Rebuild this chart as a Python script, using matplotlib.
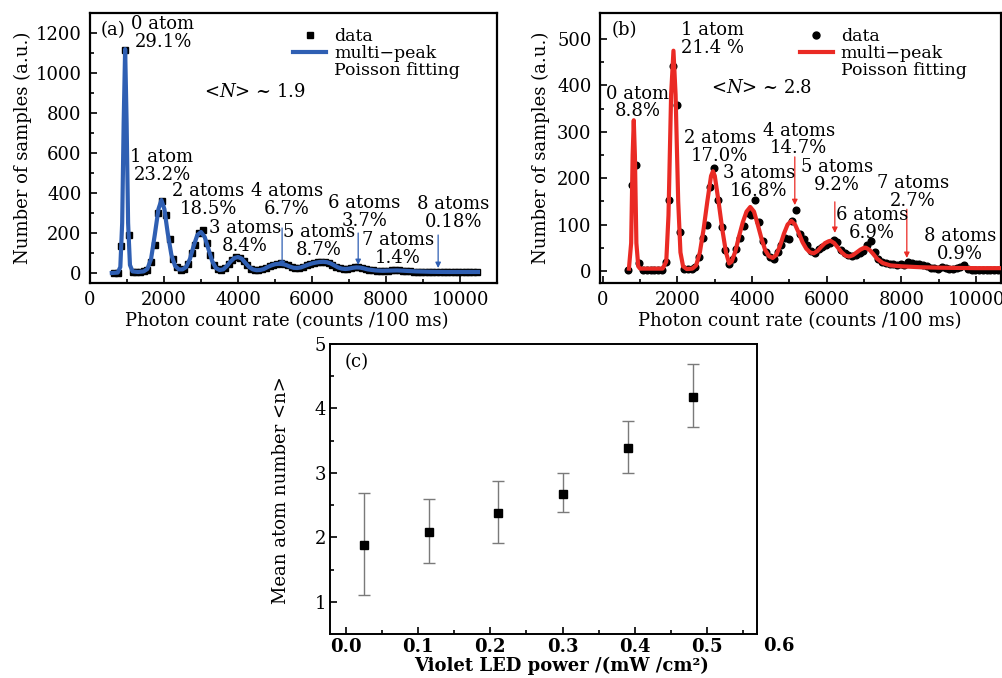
import matplotlib
matplotlib.use("Agg")
import matplotlib.pyplot as plt
from matplotlib.lines import Line2D

plt.rcParams['font.family'] = 'DejaVu Serif'
plt.rcParams['mathtext.fontset'] = 'dejavuserif'
plt.rcParams['font.size'] = 12

# ---- panel (a): histogram with <N> ~ 1.9 ----
a_data_x = [650, 750, 850, 950, 1050, 1150, 1250, 1350, 1450, 1550, 1650, 1750, 1850, 1950, 2050,
            2150, 2250, 2350, 2450, 2550, 2650, 2750, 2850, 2950, 3050, 3150, 3250, 3350, 3450,
            3550, 3650, 3750, 3850, 3950, 4050, 4150, 4250, 4350, 4450, 4550, 4650, 4750, 4850,
            4950, 5050, 5150, 5250, 5350, 5450, 5550, 5650, 5750, 5850, 5950, 6050, 6150, 6250,
            6350, 6450, 6550, 6650, 6750, 6850, 6950, 7050, 7150, 7250, 7350, 7450, 7550, 7650,
            7750, 7850, 7950, 8050, 8150, 8250, 8350, 8450, 8550, 8650, 8750, 8850, 8950, 9050,
            9150, 9250, 9350, 9450, 9550, 9650, 9750, 9850, 9950, 10050, 10150, 10250, 10350, 10450]
a_data_y = [0, 0, 135, 1115, 190, 5, 3, 5, 8, 15, 55, 140, 300, 360, 290,
            170, 70, 30, 15, 20, 45, 100, 140, 200, 215, 150, 90, 40, 20,
            15, 25, 45, 65, 78, 75, 60, 40, 22, 15, 14, 18, 25, 35,
            42, 45, 48, 47, 38, 30, 25, 26, 32, 38, 45, 50, 53, 56,
            55, 50, 42, 32, 24, 20, 22, 25, 28, 30, 26, 20, 16, 14,
            12, 10, 11, 12, 13, 15, 14, 11, 9, 8, 7, 6, 6, 5,
            5, 5, 4, 5, 4, 4, 4, 4, 3, 3, 3, 3, 3, 3]

a_fit_x = [590, 750, 820, 870, 910, 950, 990, 1030, 1080, 1150, 1300, 1450, 1550, 1650, 1750,
           1850, 1930, 2010, 2100, 2200, 2300, 2400, 2500, 2600, 2700, 2800, 2900, 3000, 3100,
           3200, 3300, 3400, 3500, 3600, 3700, 3800, 3900, 4000, 4100, 4200, 4300, 4400, 4500,
           4600, 4700, 4800, 4900, 5000, 5100, 5200, 5300, 5400, 5500, 5600, 5700, 5800, 5900,
           6000, 6100, 6200, 6300, 6400, 6500, 6600, 6700, 6800, 6900, 7000, 7100, 7200, 7300,
           7400, 7500, 7700, 7900, 8100, 8300, 8500, 8800, 9200, 9700, 10480]
a_fit_y = [0, 2, 30, 250, 750, 1120, 750, 250, 40, 8, 5, 8, 20, 70, 190,
           320, 365, 320, 200, 90, 35, 18, 18, 30, 70, 135, 190, 205, 180,
           120, 60, 25, 15, 18, 35, 58, 75, 80, 72, 50, 30, 18, 14,
           15, 20, 30, 38, 44, 46, 45, 40, 32, 26, 25, 28, 35, 42,
           48, 52, 55, 56, 54, 48, 38, 28, 22, 20, 22, 26, 28, 27,
           23, 18, 13, 11, 12, 13, 11, 8, 6, 5, 5]

a_labels = ["0 atom\n29.1%", "1 atom\n23.2%", "2 atoms\n18.5%", "3 atoms\n8.4%", "4 atoms\n6.7%",
            "5 atoms\n8.7%", "6 atoms\n3.7%", "7 atoms\n1.4%", "8 atoms\n0.18%"]
a_label_x = [1973, 1946, 3189, 4189, 5324, 6189, 7405, 8324, 9811]
a_label_y = [1200, 535, 365, 180, 365, 160, 305, 120, 300]
a_arrow_x = [5190, 7245, 9405]
a_arrow_top = [225, 200, 190]
a_arrow_bot = [30, 40, 25]

# ---- panel (b): histogram with <N> ~ 2.8 ----
b_data_x = [680, 780, 880, 980, 1080, 1180, 1280, 1380, 1480, 1580, 1680, 1780, 1880, 1980, 2080,
            2180, 2280, 2380, 2480, 2580, 2680, 2780, 2880, 2980, 3080, 3180, 3280, 3380, 3480,
            3580, 3680, 3780, 3880, 3980, 4080, 4180, 4280, 4380, 4480, 4580, 4680, 4780, 4880,
            4980, 5080, 5180, 5280, 5380, 5480, 5580, 5680, 5780, 5880, 5980, 6080, 6180, 6280,
            6380, 6480, 6580, 6680, 6780, 6880, 6980, 7080, 7180, 7280, 7380, 7480, 7580, 7680,
            7780, 7880, 7980, 8080, 8180, 8280, 8380, 8480, 8580, 8680, 8780, 8880, 8980, 9080,
            9180, 9280, 9380, 9480, 9580, 9680, 9780, 9880, 9980, 10080, 10180, 10280, 10380,
            10480, 10580]
b_data_y = [3, 185, 228, 17, 3, 2, 2, 2, 2, 3, 20, 152, 442, 358, 84,
            5, 4, 5, 8, 30, 70, 100, 180, 222, 152, 95, 45, 15, 25,
            48, 70, 98, 125, 120, 154, 105, 65, 40, 30, 25, 40, 55, 70,
            68, 108, 131, 80, 68, 55, 42, 38, 48, 52, 55, 60, 67, 62,
            45, 38, 35, 32, 35, 38, 42, 55, 65, 40, 25, 20, 18, 15,
            14, 12, 15, 12, 20, 18, 16, 15, 12, 10, 7, 6, 5, 8,
            6, 5, 5, 7, 9, 12, 5, 1, 1, 1, 1, 1, 1,
            1, 1]

b_fit_x = [700, 760, 800, 830, 860, 900, 950, 1000, 1600, 1700, 1760, 1830, 1893, 1950, 2020,
           2080, 2150, 2250, 2400, 2500, 2600, 2700, 2800, 2900, 2950, 3000, 3100, 3200, 3300,
           3384, 3450, 3550, 3650, 3750, 3850, 3950, 4050, 4150, 4250, 4350, 4450, 4550, 4650,
           4750, 4850, 4950, 5050, 5150, 5250, 5350, 5450, 5550, 5650, 5750, 5850, 5950, 6050,
           6100, 6200, 6300, 6400, 6500, 6600, 6700, 6800, 6900, 7000, 7050, 7150, 7250, 7350,
           7500, 7700, 8000, 8500, 9000, 10000, 10660]
b_fit_y = [5, 60, 250, 325, 250, 60, 10, 5, 5, 20, 120, 380, 475, 380, 150,
           40, 10, 4, 5, 12, 40, 90, 150, 205, 215, 205, 150, 90, 40,
           16, 20, 42, 75, 105, 128, 138, 128, 100, 70, 45, 32, 28, 35,
           55, 80, 100, 108, 100, 82, 62, 48, 40, 38, 43, 52, 60, 64,
           65, 60, 50, 40, 33, 31, 34, 40, 46, 50, 50, 45, 36, 26,
           17, 12, 10, 8, 7, 6, 6]

b_labels = ["0 atom\n8.8%", "1 atom\n21.4 %", "2 atoms\n17.0%", "3 atoms\n16.8%", "4 atoms\n14.7%",
            "5 atoms\n9.2%", "6 atoms\n6.9%", "7 atoms\n2.7%", "8 atoms\n0.9%"]
b_label_x = [938, 2947, 3134, 4179, 5250, 6268, 7206, 8304, 9563]
b_label_y = [364, 500, 267, 192, 284, 205, 101, 170, 56]
b_arrow_x = [5143, 6215, 8143]
b_arrow_top = [246, 149, 133]
b_arrow_bot = [142, 82, 28]

# ---- panel (c): mean atom number vs LED power ----
c_power = [0.025, 0.115, 0.21, 0.30, 0.39, 0.48]
c_mean = [1.88, 2.09, 2.38, 2.68, 3.38, 4.18]
c_upper = [2.69, 2.60, 2.88, 3.00, 3.80, 4.69]
c_lower = [1.10, 1.60, 1.91, 2.40, 3.00, 3.71]

blue = '#2f5fb3'
red = '#ea2a24'
fs = 13

fig = plt.figure(figsize=(10.03, 6.78), dpi=100)
ax_a = fig.add_axes([0.0897, 0.5826, 0.406, 0.398])
ax_b = fig.add_axes([0.598, 0.5826, 0.3998, 0.398])
ax_c = fig.add_axes([0.329, 0.0649, 0.4257, 0.4277])


def style_axes(ax, lw=1.6, pad=6):
    for s in ax.spines.values():
        s.set_linewidth(lw)
    ax.tick_params(which='both', direction='in', top=False, right=False, width=1.2, pad=pad,
                   labelsize=fs)
    ax.tick_params(which='major', length=5)
    ax.tick_params(which='minor', length=3)


def histogram_panel(ax, dx, dy, fx, fy, marker, color, labels, lx, ly, arx, art, arb, tag, nbar):
    ax.plot(dx, dy, linestyle='none', marker=marker, color='black',
            markersize=4 if marker == 's' else 4.8, zorder=2)
    ax.plot(fx, fy, color=color, lw=3, zorder=3, solid_joinstyle='round')
    for t, x, y in zip(labels, lx, ly):
        ax.text(x, y, t, ha='center', va='center', fontsize=fs, linespacing=0.95, zorder=5)
    for x, y0, y1 in zip(arx, art, arb):
        ax.annotate('', xy=(x, y1), xytext=(x, y0),
                    arrowprops=dict(arrowstyle='-|>', color=color, lw=0.9, mutation_scale=8,
                                    shrinkA=0, shrinkB=0))
    ax.text(0.057 if tag == '(a)' else 0.062, 0.937, tag, transform=ax.transAxes,
            ha='center', va='center', fontsize=fs)
    ax.text(nbar[0], nbar[1], nbar[2], ha='center', va='center', fontsize=fs)
    handles = [Line2D([], [], linestyle='none', marker=marker, color='black', markersize=5),
               Line2D([], [], color=color, lw=3),
               Line2D([], [], color='none')]
    ax.legend(handles, ['data', 'multi\u2212peak', 'Poisson fitting'], loc='upper left',
              bbox_to_anchor=(0.499, 0.944), frameon=False, borderpad=0, borderaxespad=0,
              handlelength=1.9, handletextpad=0.45, labelspacing=0.0, fontsize=12.5)
    ax.set_xlabel('Photon count rate (counts /100 ms)', fontsize=fs)
    ax.set_ylabel('Number of samples (a.u.)', fontsize=fs)
    style_axes(ax)


histogram_panel(ax_a, a_data_x, a_data_y, a_fit_x, a_fit_y, 's', blue, a_labels,
                a_label_x, a_label_y, a_arrow_x, a_arrow_top, a_arrow_bot, '(a)',
                (4459, 905, r'<$N$> ~ 1.9'))
ax_a.set_xlim(0, 11000)
ax_a.set_ylim(-50, 1300)
ax_a.set_xticks([0, 2000, 4000, 6000, 8000, 10000])
ax_a.set_xticks(range(1000, 11000, 2000), minor=True)
ax_a.set_yticks([0, 200, 400, 600, 800, 1000, 1200])
ax_a.set_yticks(range(100, 1300, 200), minor=True)
ax_a.xaxis.set_label_coords(0.483, -0.108)
ax_a.yaxis.set_label_coords(-0.1425, 0.5)

histogram_panel(ax_b, b_data_x, b_data_y, b_fit_x, b_fit_y, 'o', red, b_labels,
                b_label_x, b_label_y, b_arrow_x, b_arrow_top, b_arrow_bot, '(b)',
                (4259, 394, r'<$N$> ~ 2.8'))
ax_b.set_xlim(-80, 10660)
ax_b.set_ylim(-26, 556)
ax_b.set_xticks([0, 2000, 4000, 6000, 8000, 10000])
ax_b.set_xticks(range(1000, 11000, 2000), minor=True)
ax_b.set_yticks([0, 100, 200, 300, 400, 500])
ax_b.set_yticks(range(50, 550, 100), minor=True)
ax_b.xaxis.set_label_coords(0.499, -0.108)
ax_b.yaxis.set_label_coords(-0.125, 0.5)

# panel (c)
err_lo = [m - l for m, l in zip(c_mean, c_lower)]
err_hi = [u - m for m, u in zip(c_mean, c_upper)]
ax_c.errorbar(c_power, c_mean, yerr=[err_lo, err_hi], fmt='s', color='black', markersize=5.5,
              ecolor='#7a7a7a', elinewidth=1.0, capsize=4, capthick=1.0)
ax_c.set_xlim(-0.022, 0.569)
ax_c.set_ylim(0.5, 5.0)
ax_c.set_xticks([0.0, 0.1, 0.2, 0.3, 0.4, 0.5])
ax_c.set_xticklabels(['0.0', '0.1', '0.2', '0.3', '0.4', '0.5'], fontweight='bold')
ax_c.set_xticks([0.05, 0.15, 0.25, 0.35, 0.45, 0.55], minor=True)
ax_c.set_yticks([1, 2, 3, 4, 5])
ax_c.set_yticks([1.5, 2.5, 3.5, 4.5], minor=True)
style_axes(ax_c, lw=1.4, pad=3)
ax_c.text(0.6, -0.012, '0.6', transform=ax_c.get_xaxis_transform(), ha='center', va='top',
          fontsize=fs, fontweight='bold')
ax_c.set_xlabel('Violet LED power /(mW /cm\u00b2)', fontsize=fs, fontweight='bold')
ax_c.set_ylabel('Mean atom number <n>', fontsize=fs)
ax_c.xaxis.set_label_coords(0.543, -0.08)
ax_c.yaxis.set_label_coords(-0.094, 0.497)
ax_c.text(0.063, 0.938, '(c)', transform=ax_c.transAxes, ha='center', va='center', fontsize=fs)

fig.savefig('out.png', dpi=100)
